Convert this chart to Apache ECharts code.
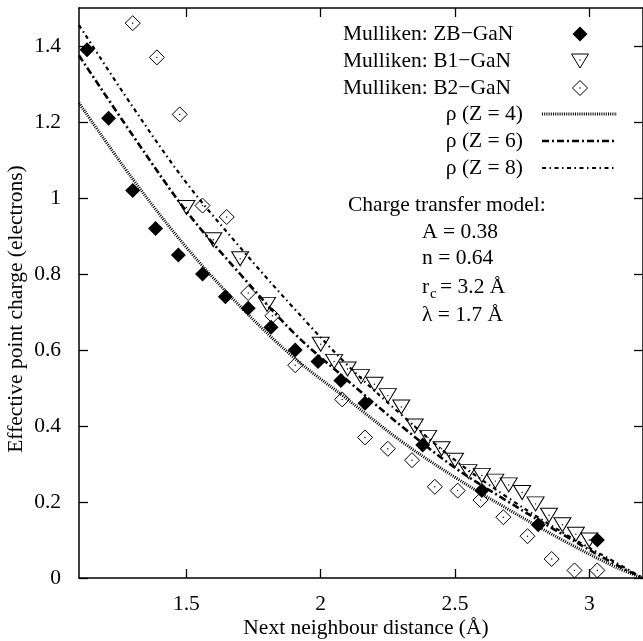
<!DOCTYPE html>
<html><head><meta charset="utf-8">
<script src="https://cdn.jsdelivr.net/npm/echarts@6/dist/echarts.min.js"></script>
<style>html,body{margin:0;padding:0;background:#fff}#c{width:643px;height:641px}</style>
</head><body><div id="c"></div>
<script>
// ---- data ----
const xTicks = [1.5, 2, 2.5, 3];
const yTicks = [0, 0.2, 0.4, 0.6, 0.8, 1, 1.2, 1.4];

const zbGaN = [[1.13,1.39],[1.21,1.21],[1.30,1.02],[1.385,0.92],[1.47,0.85],[1.56,0.80],[1.645,0.74],[1.73,0.71],[1.815,0.66],[1.905,0.60],[1.99,0.57],[2.075,0.52],[2.165,0.46],[2.38,0.35],[2.60,0.23],[2.81,0.14],[3.03,0.10]];
const b1GaN = [[1.50,0.975],[1.60,0.89],[1.70,0.84],[1.80,0.72],[2.00,0.615],[2.05,0.57],[2.10,0.55],[2.15,0.53],[2.20,0.51],[2.25,0.48],[2.30,0.45],[2.35,0.40],[2.40,0.37],[2.45,0.34],[2.50,0.31],[2.55,0.28],[2.60,0.27],[2.65,0.255],[2.70,0.245],[2.75,0.225],[2.80,0.195],[2.85,0.165],[2.90,0.14],[2.95,0.115],[3.00,0.10]];
const b2GaN = [[1.30,1.46],[1.39,1.37],[1.475,1.22],[1.56,0.98],[1.65,0.95],[1.73,0.75],[1.82,0.69],[1.905,0.56],[2.08,0.47],[2.165,0.37],[2.25,0.34],[2.34,0.31],[2.425,0.24],[2.51,0.23],[2.595,0.205],[2.68,0.16],[2.77,0.11],[2.86,0.05],[2.945,0.02],[3.03,0.02]];

const rhoZ4 = [[1.1,1.25],[1.3,1.05],[1.5,0.87],[1.7,0.715],[1.9,0.58],[2.1,0.47],[2.3,0.36],[2.5,0.265],[2.7,0.18],[2.9,0.10],[3.1,0.028],[3.2,0]];
const rhoZ6 = [[1.1,1.375],[1.3,1.165],[1.5,0.965],[1.7,0.80],[1.9,0.645],[2.1,0.52],[2.3,0.40],[2.5,0.29],[2.7,0.20],[2.9,0.115],[3.1,0.035],[3.2,0]];
const rhoZ8 = [[1.1,1.455],[1.3,1.24],[1.5,1.04],[1.7,0.87],[1.9,0.71],[2.1,0.56],[2.3,0.43],[2.5,0.31],[2.7,0.21],[2.9,0.12],[3.1,0.04],[3.2,0]];

const legendNames = ['Mulliken: ZB\u2212GaN','Mulliken: B1\u2212GaN','Mulliken: B2\u2212GaN','\u03C1 (Z = 4)','\u03C1 (Z = 6)','\u03C1 (Z = 8)'];
const modelTitle = 'Charge transfer model:';
const xTitle = 'Next neighbour distance (\u00C5)';
const yTitle = 'Effective point charge (electrons)';

// ---- styling ----
const FONT = '"Liberation Serif","Times New Roman",serif';
const FS = 21.5;
const dashZ4 = [1, 1.2];
const dashZ6 = [7, 3, 2, 3];
const dashZ8 = [4, 3.5, 1.5, 3.5];

const chart = echarts.init(document.getElementById('c'), null, {renderer: 'canvas'});

const axisCommon = {
  type: 'value',
  axisLine: {show: true, onZero: false, lineStyle: {color: '#000', width: 1.5}},
  splitLine: {show: false},
  axisTick: {show: true, inside: true, length: 9, lineStyle: {color: '#000', width: 1.3}},
};

const txt = (x, y, text, align, extra) => Object.assign({
  type: 'text', x: x, y: y, silent: true,
  style: {text: text, font: FS + 'px ' + FONT, fill: '#000', textAlign: align || 'left', textVerticalAlign: 'middle'}
}, extra || {});

const rowsY = [34, 61, 88, 114, 141, 168];
const graphics = [];
graphics.push(txt(343, rowsY[0], legendNames[0], 'left'));
graphics.push(txt(343, rowsY[1], legendNames[1], 'left'));
graphics.push(txt(343, rowsY[2], legendNames[2], 'left'));
graphics.push(txt(523, rowsY[3], legendNames[3], 'right'));
graphics.push(txt(523, rowsY[4], legendNames[4], 'right'));
graphics.push(txt(523, rowsY[5], legendNames[5], 'right'));
graphics.push({type: 'polygon', silent: true, shape: {points: [[580, rowsY[0]-7.5],[587.5, rowsY[0]],[580, rowsY[0]+7.5],[572.5, rowsY[0]]]}, style: {fill: '#000'}});
graphics.push({type: 'polygon', silent: true, shape: {points: [[571.5, rowsY[1]-7],[588.5, rowsY[1]-7],[580, rowsY[1]+7]]}, style: {fill: 'none', stroke: '#000', lineWidth: 1}});
graphics.push({type: 'polygon', silent: true, shape: {points: [[580, rowsY[2]-7.5],[587.5, rowsY[2]],[580, rowsY[2]+7.5],[572.5, rowsY[2]]]}, style: {fill: 'none', stroke: '#000', lineWidth: 1}});
graphics.push({type: 'circle', silent: true, shape: {cx: 580, cy: rowsY[1]-1, r: 0.7}, style: {fill: '#000'}});
graphics.push({type: 'circle', silent: true, shape: {cx: 580, cy: rowsY[2], r: 0.7}, style: {fill: '#000'}});
graphics.push({type: 'line', silent: true, shape: {x1: 542, y1: rowsY[3], x2: 617, y2: rowsY[3]}, style: {stroke: '#000', lineWidth: 3, lineDash: dashZ4}});
graphics.push({type: 'line', silent: true, shape: {x1: 542, y1: rowsY[4], x2: 617, y2: rowsY[4]}, style: {stroke: '#000', lineWidth: 2.6, lineDash: dashZ6}});
graphics.push({type: 'line', silent: true, shape: {x1: 542, y1: rowsY[5], x2: 617, y2: rowsY[5]}, style: {stroke: '#000', lineWidth: 2.2, lineDash: dashZ8}});
graphics.push(txt(348, 205, modelTitle, 'left'));
graphics.push(txt(422, 232, 'A = 0.38', 'left'));
graphics.push(txt(422, 258, 'n = 0.64', 'left'));
graphics.push(txt(422, 287, 'r', 'left'));
graphics.push({type: 'text', x: 430, y: 294, silent: true, style: {text: 'c', font: '15px ' + FONT, fill: '#000', textAlign: 'left', textVerticalAlign: 'middle'}});
graphics.push(txt(440, 287, '= 3.2 \u00C5', 'left'));
graphics.push(txt(422, 315, '\u03BB = 1.7 \u00C5', 'left'));
graphics.push(txt(366, 628, xTitle, 'center'));
graphics.push(txt(16, 309, yTitle, 'center', {rotation: Math.PI / 2}));

const lineSeries = (data, dash, width) => ({
  type: 'line', data: data, smooth: 0.35, showSymbol: false, symbol: 'none', silent: true, z: 2,
  xAxisIndex: 0, yAxisIndex: 0, clip: true,
  lineStyle: {color: '#000', width: width, type: dash, opacity: 1}
});

chart.setOption({
  animation: false,
  backgroundColor: '#fff',
  textStyle: {fontFamily: FONT},
  grid: {left: 79, right: -7, top: 8, bottom: 63, containLabel: false},
  xAxis: [
    Object.assign({}, axisCommon, {position: 'bottom', min: 1.1, max: 3.2,
      axisTick: Object.assign({}, axisCommon.axisTick, {customValues: xTicks}),
      axisLabel: {show: true, customValues: xTicks, margin: 15, fontFamily: FONT, fontSize: FS, color: '#000'}}),
    Object.assign({}, axisCommon, {position: 'top', min: 1.1, max: 3.2,
      axisTick: Object.assign({}, axisCommon.axisTick, {customValues: xTicks}),
      axisLabel: {show: false}})
  ],
  yAxis: [
    Object.assign({}, axisCommon, {position: 'left', min: 0, max: 1.5,
      axisTick: Object.assign({}, axisCommon.axisTick, {customValues: yTicks}),
      axisLabel: {show: true, customValues: yTicks, margin: 18, fontFamily: FONT, fontSize: FS, color: '#000'}}),
    Object.assign({}, axisCommon, {position: 'right', min: 0, max: 1.5,
      axisTick: Object.assign({}, axisCommon.axisTick, {customValues: yTicks}),
      axisLabel: {show: false}})
  ],
  series: [
    lineSeries(rhoZ4, dashZ4, 3),
    lineSeries(rhoZ6, dashZ6, 2.6),
    lineSeries(rhoZ8, dashZ8, 2.2),
    {type: 'scatter', data: b2GaN, symbol: 'diamond', symbolSize: [15, 15], z: 3,
      itemStyle: {color: 'rgba(255,255,255,0)', borderColor: '#000', borderWidth: 1, opacity: 1}},
    {type: 'scatter', data: b1GaN, symbol: 'triangle', symbolRotate: 180, symbolSize: [17, 14], z: 3,
      itemStyle: {color: 'rgba(255,255,255,0)', borderColor: '#000', borderWidth: 1, opacity: 1}},
    {type: 'scatter', data: zbGaN, symbol: 'diamond', symbolSize: [15, 15], z: 4,
      itemStyle: {color: '#000', opacity: 1}},
    {type: 'scatter', data: b1GaN.concat(b2GaN), symbol: 'circle', symbolSize: 1.4, z: 5,
      itemStyle: {color: '#000', opacity: 1}}
  ],
  graphic: graphics
});
</script>
</body></html>
